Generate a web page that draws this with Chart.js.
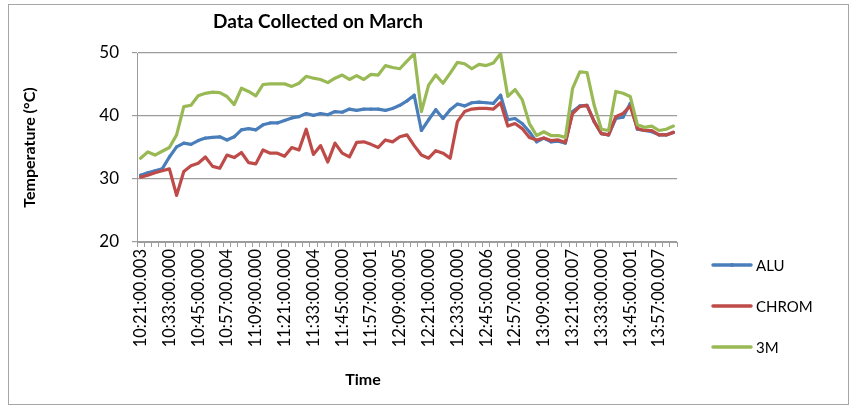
<!DOCTYPE html>
<html>
<head>
<meta charset="utf-8">
<script src="https://cdn.jsdelivr.net/npm/chart.js@4.4.1/dist/chart.umd.min.js"></script>
<style>
  html, body { margin: 0; padding: 0; background: #fff; }
  #wrap { width: 858px; height: 410px; position: relative; }
</style>
</head>
<body>
<div id="wrap"><canvas id="chart" width="858" height="410"></canvas></div>
<script>
'use strict';

// Sample times, one every 3 minutes (only every 4th one is shown on the axis)
const categories = [
  '10:21:00.003', '10:24:00.000', '10:27:00.000', '10:30:00.000', '10:33:00.000', '10:36:00.000', '10:39:00.000', '10:42:00.000',
  '10:45:00.000', '10:48:00.000', '10:51:00.000', '10:54:00.000', '10:57:00.004', '11:00:00.000', '11:03:00.000', '11:06:00.000',
  '11:09:00.000', '11:12:00.000', '11:15:00.000', '11:18:00.000', '11:21:00.000', '11:24:00.000', '11:27:00.000', '11:30:00.000',
  '11:33:00.004', '11:36:00.000', '11:39:00.000', '11:42:00.000', '11:45:00.000', '11:48:00.000', '11:51:00.000', '11:54:00.000',
  '11:57:00.001', '12:00:00.000', '12:03:00.000', '12:06:00.000', '12:09:00.005', '12:12:00.000', '12:15:00.000', '12:18:00.000',
  '12:21:00.000', '12:24:00.000', '12:27:00.000', '12:30:00.000', '12:33:00.000', '12:36:00.000', '12:39:00.000', '12:42:00.000',
  '12:45:00.006', '12:48:00.000', '12:51:00.000', '12:54:00.000', '12:57:00.000', '13:00:00.000', '13:03:00.000', '13:06:00.000',
  '13:09:00.000', '13:12:00.000', '13:15:00.000', '13:18:00.000', '13:21:00.007', '13:24:00.000', '13:27:00.000', '13:30:00.000',
  '13:33:00.000', '13:36:00.000', '13:39:00.000', '13:42:00.000', '13:45:00.001', '13:48:00.000', '13:51:00.000', '13:54:00.000',
  '13:57:00.007', '14:00:00.000', '14:03:00.000'
];
const labelEvery = 4;

const alu = [
  30.6, 31.0, 31.3, 31.6, 33.5, 35.1, 35.7, 35.5, 36.1, 36.5, 36.6, 36.7, 36.2, 36.7, 37.8, 38.0, 37.8, 38.6, 38.9,
  38.9, 39.3, 39.7, 39.9, 40.4, 40.1, 40.4, 40.2, 40.7, 40.6, 41.1, 40.9, 41.1, 41.1, 41.1, 40.9, 41.2, 41.7, 42.4,
  43.3, 37.7, 39.4, 41.0, 39.6, 41.0, 41.9, 41.6, 42.1, 42.2, 42.1, 42.0, 43.3, 39.4, 39.6, 38.8, 37.5, 35.9, 36.5,
  35.9, 36.0, 35.7, 40.7, 41.6, 41.7, 39.1, 37.2, 37.0, 39.6, 39.8, 42.0, 37.9, 37.7, 37.5, 37.0, 37.0, 37.4
];
const chrom = [
  30.3, 30.6, 31.0, 31.3, 31.6, 27.4, 31.2, 32.1, 32.5, 33.5, 32.0, 31.7, 33.8, 33.4, 34.2, 32.6, 32.4, 34.6, 34.1,
  34.1, 33.6, 35.0, 34.6, 37.9, 33.9, 35.3, 32.7, 35.7, 34.1, 33.5, 35.8, 35.9, 35.5, 35.0, 36.2, 35.9, 36.7, 37.0,
  35.3, 33.8, 33.3, 34.5, 34.1, 33.3, 39.1, 40.7, 41.1, 41.2, 41.2, 41.1, 42.1, 38.4, 38.8, 38.0, 36.6, 36.2, 36.5,
  36.1, 36.2, 35.8, 40.4, 41.5, 41.7, 39.1, 37.2, 37.0, 39.9, 40.4, 41.6, 38.0, 37.7, 37.7, 37.0, 37.0, 37.4
];
const threeM = [
  33.3, 34.3, 33.8, 34.4, 35.0, 37.0, 41.5, 41.7, 43.2, 43.6, 43.8, 43.7, 43.1, 41.8, 44.4, 43.9, 43.2, 45.0, 45.1,
  45.1, 45.1, 44.7, 45.2, 46.3, 46.0, 45.8, 45.3, 46.0, 46.5, 45.8, 46.4, 45.8, 46.6, 46.5, 48.0, 47.7, 47.5, 48.7,
  49.9, 40.7, 44.9, 46.5, 45.2, 46.8, 48.5, 48.3, 47.5, 48.2, 48.0, 48.4, 49.9, 43.1, 44.2, 42.6, 38.8, 36.9, 37.5,
  36.9, 36.9, 36.6, 44.4, 47.0, 46.9, 41.7, 37.9, 37.7, 43.9, 43.6, 43.1, 38.6, 38.2, 38.4, 37.7, 37.9, 38.4
];

const yMin = 20, yMax = 50, yStep = 10;

const FONT = 'Lato, "Open Sans", sans-serif';
const GRID = '#9c9c9c';

// frame, titles and legend drawn on top of the chart
const decorations = {
  id: 'decorations',
  afterDraw(chart) {
    const ctx = chart.ctx;
    const area = chart.chartArea;
    ctx.save();
    ctx.strokeStyle = '#a6a6a6';
    ctx.lineWidth = 1;
    ctx.strokeRect(8.5, 4.5, 840, 400);

    ctx.fillStyle = '#000';
    ctx.textAlign = 'center';
    ctx.textBaseline = 'middle';
    ctx.font = `bold 19px ${FONT}`;
    ctx.fillText('Data Collected on March', 318, 22);
    ctx.font = `bold 16px ${FONT}`;
    ctx.fillText('Time', 363, 380);
    ctx.save();
    ctx.translate(30, (area.top + area.bottom) / 2);
    ctx.rotate(-Math.PI / 2);
    ctx.fillText('Temperature (°C)', 0, 0);
    ctx.restore();

    // legend
    ctx.font = `15px ${FONT}`;
    ctx.textAlign = 'left';
    chart.data.datasets.forEach((ds, i) => {
      const y = 265 + i * 41;
      ctx.strokeStyle = ds.borderColor;
      ctx.lineWidth = 3.5;
      ctx.lineCap = 'round';
      ctx.beginPath();
      ctx.moveTo(713, y);
      ctx.lineTo(751, y);
      ctx.stroke();
      if (ds.pointRadius) {
        ctx.fillStyle = ds.borderColor;
        ctx.beginPath();
        ctx.arc(732, y, ds.pointRadius + 0.5, 0, Math.PI * 2);
        ctx.fill();
      }
      ctx.fillStyle = '#000';
      ctx.fillText(ds.label, 756, y + 1);
    });
    ctx.restore();
  }
};

function series(label, data, color, order, radius) {
  return {
    label, data, order,
    borderColor: color,
    backgroundColor: color,
    borderWidth: 3.2,
    pointRadius: radius,
    pointBorderWidth: 0,
    pointBackgroundColor: color,
    tension: 0,
    borderJoinStyle: 'round',
    borderCapStyle: 'round'
  };
}

new Chart(document.getElementById('chart').getContext('2d'), {
  type: 'line',
  data: {
    labels: categories,
    datasets: [
      series('ALU', alu, '#4A7EBB', 3, 1.6),
      series('CHROM', chrom, '#BE4B48', 2, 0),
      series('3M', threeM, '#98B954', 1, 0)
    ]
  },
  options: {
    responsive: false,
    animation: false,
    devicePixelRatio: 1,
    layout: { padding: { top: 53, right: 181, bottom: 0, left: 0 } },
    plugins: { legend: { display: false }, title: { display: false }, tooltip: { enabled: false } },
    scales: {
      x: {
        type: 'category',
        offset: true,
        grid: { display: true, drawOnChartArea: false, drawTicks: true, tickLength: 5, offset: true, color: GRID },
        border: { display: true, color: GRID },
        ticks: {
          autoSkip: false,
          maxRotation: 90,
          minRotation: 90,
          padding: 2,
          color: '#000',
          font: { family: FONT, size: 16.5 },
          callback(value, index) { return index % labelEvery === 0 ? this.getLabelForValue(value) : ''; }
        },
        afterFit(scale) { scale.height = 168; }
      },
      y: {
        min: yMin,
        max: yMax,
        grid: { color: GRID, tickLength: 5, lineWidth: 1.2 },
        border: { display: true, color: GRID },
        ticks: { stepSize: yStep, padding: 13, color: '#000', font: { family: FONT, size: 17 } },
        afterFit(scale) { scale.width = 137; }
      }
    }
  },
  plugins: [decorations]
});
</script>
</body>
</html>
